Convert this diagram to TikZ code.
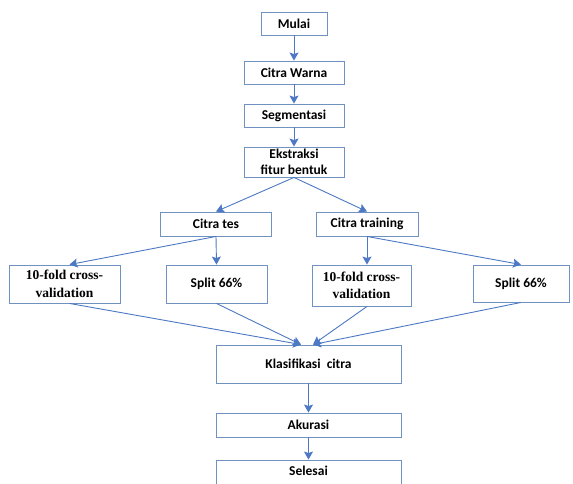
\documentclass[tikz,border=0pt]{standalone}
\usepackage{fontspec}
\setmainfont{Carlito}
\newfontfamily\serifbold{Liberation Serif}
\usepackage{xcolor}
\usetikzlibrary{arrows.meta,positioning,calc}
\definecolor{garis}{RGB}{112,146,192}
\definecolor{panah}{RGB}{76,120,196}

\begin{document}
\begin{tikzpicture}[x=1pt,y=-1pt,>={Stealth[length=8pt,width=9pt,inset=1.5pt]},
  box/.style={draw=garis,line width=0.9pt,fill=white,inner sep=1pt,align=center,
    font=\fontsize{13.5}{16}\selectfont\bfseries},
  sbox/.style={box,font=\fontsize{13.5}{17.5}\selectfont\serifbold\bfseries},
  alur/.style={->,draw=panah,line width=0.9pt}]
  \useasboundingbox (0,0) rectangle (573,484);
  \node[box,minimum width=66pt,minimum height=23pt](mulai) at (294,23.5){Mulai};
  \node[box,minimum width=100pt,minimum height=23pt](warna) at (294,72.5){Citra Warna};
  \node[box,minimum width=100pt,minimum height=23pt](segmen) at (294,115.5){Segmentasi};
  \node[box,minimum width=100pt,minimum height=30pt](ekstraksi) at (294,162){Ekstraksi\\fitur bentuk};
  \node[box,minimum width=111pt,minimum height=24pt](tes) at (216,224){Citra tes};
  \node[box,minimum width=102pt,minimum height=24pt](training) at (367,224){Citra training};
  \node[sbox,minimum width=111pt,minimum height=38pt](cvkiri) at (64.5,284){10-fold cross-\\validation};
  \node[box,minimum width=101pt,minimum height=38pt](splitkiri) at (216.5,284){Split 66\%};
  \node[sbox,minimum width=99pt,minimum height=41pt](cvkanan) at (361.5,285.5){10-fold cross-\\validation};
  \node[box,minimum width=96pt,minimum height=37pt](splitkanan) at (521,283.5){Split 66\%};
  \node[box,minimum width=185pt,minimum height=38pt](klasifikasi) at (308.5,364){Klasifikasi\ \ citra};
  \node[box,minimum width=185pt,minimum height=24pt](akurasi) at (308.5,425){Akurasi};
  \node[box,minimum width=185pt,minimum height=34pt,text depth=12pt](selesai) at (308.5,477){Selesai};
  \coordinate (masukkiri) at ($(klasifikasi.north)+(-7.5,0)$);
  \coordinate (masukkanan) at ($(klasifikasi.north)+(4.5,0)$);
  % alur utama
  \draw[alur] (mulai) -- (warna);
  \draw[alur] (warna) -- (segmen);
  \draw[alur] (segmen) -- (ekstraksi);
  \draw[alur] (ekstraksi.south) -- (tes.north);
  \draw[alur] (ekstraksi.south) -- (training.north);
  \draw[alur] (tes.south) -- ($(cvkiri.north)+(5,0)$);
  \draw[alur] (tes.south) -- (splitkiri.north);
  \draw[alur] (training.south) -- (training.south |- cvkanan.north);
  \draw[alur] (training.south) -- (splitkanan.north);
  % ke klasifikasi
  \draw[alur] ($(cvkiri.south)+(5,0)$) -- (masukkiri);
  \draw[alur] (splitkiri.south) -- (masukkiri);
  \draw[alur] ($(cvkanan.south)+(5.5,0)$) -- (masukkanan);
  \draw[alur] (splitkanan.south) -- (masukkanan);
  \draw[alur] (klasifikasi) -- (akurasi);
  \draw[alur] (akurasi) -- (selesai);
\end{tikzpicture}
\end{document}
